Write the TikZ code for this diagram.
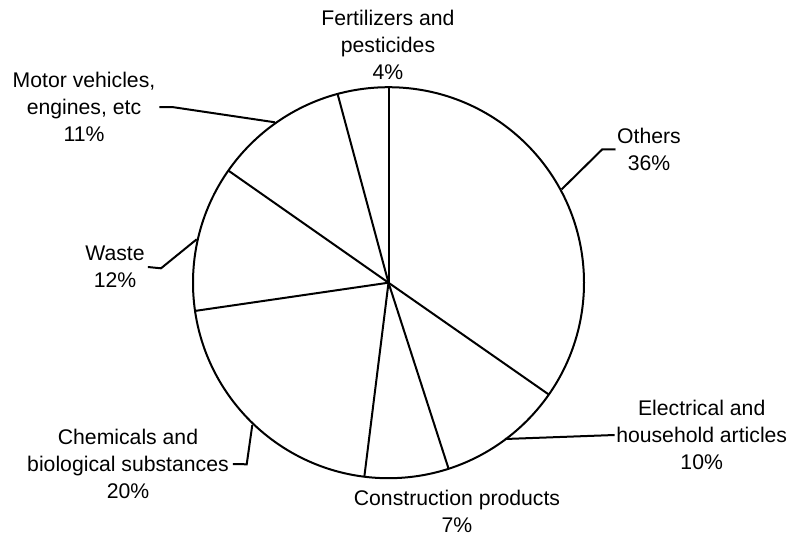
\documentclass[tikz,border=0pt]{standalone}
\usepackage{fontspec}
\setmainfont{Liberation Sans}
\begin{document}
\begin{tikzpicture}[x=1pt,y=1pt,
  lbl/.style={align=center,inner sep=0pt,font=\fontsize{21.2}{27}\selectfont},
  edge/.style={line width=2pt},
  leader/.style={line width=2pt}]
\useasboundingbox (0,0) rectangle (790,-536);
\coordinate (c) at (388.5,-282.7);
\draw[edge,fill=white] (c) circle[radius=195.5];
\foreach \a in {90,-34.9,-72.1,-97.1,188.3,145,105.1}
  \draw[edge] (c) -- ++(\a:195.5);
% labels
\node[lbl] (fert) at (388,-45) {Fertilizers and\\pesticides\\4\%};
\node[lbl] (others) at (649,-149.5) {Others\\36\%};
\node[lbl] (motor) at (84,-107) {Motor vehicles,\\engines, etc\\11\%};
\node[lbl] (waste) at (115,-267) {Waste\\12\%};
\node[lbl] (chem) at (128,-464) {Chemicals and\\biological substances\\20\%};
\node[lbl] (elec) at (701.7,-435) {Electrical and\\household articles\\10\%};
\node[lbl] (cons) at (457,-511.5) {Construction products\\7\%};
% leader anchor points
\coordinate (pOthers) at (561.7,-189.3);
\coordinate (kOthers) at (602.3,-149.3);
\coordinate (pMotor) at (275,-122.3);
\coordinate (kMotor) at (172,-107);
\coordinate (pWaste) at (196.7,-239.3);
\coordinate (kWaste) at (161,-268.3);
\coordinate (pChem) at (252.3,-425);
\coordinate (kChem) at (246.7,-464.3);
\coordinate (pElec) at (505,-439);
% leaders
\draw[leader] (pOthers) -- (kOthers) -- ([xshift=-1.5pt]others.west);
\draw[leader] (pMotor) -- (kMotor) -- ([xshift=4pt]motor.east);
\draw[leader] (pWaste) -- (kWaste) -- ([xshift=3pt]waste.east);
\draw[leader] (pChem) -- (kChem) -- ([xshift=4pt]chem.east);
\draw[leader] (pElec) -- ([xshift=-1.5pt]elec.west);
\end{tikzpicture}
\end{document}
